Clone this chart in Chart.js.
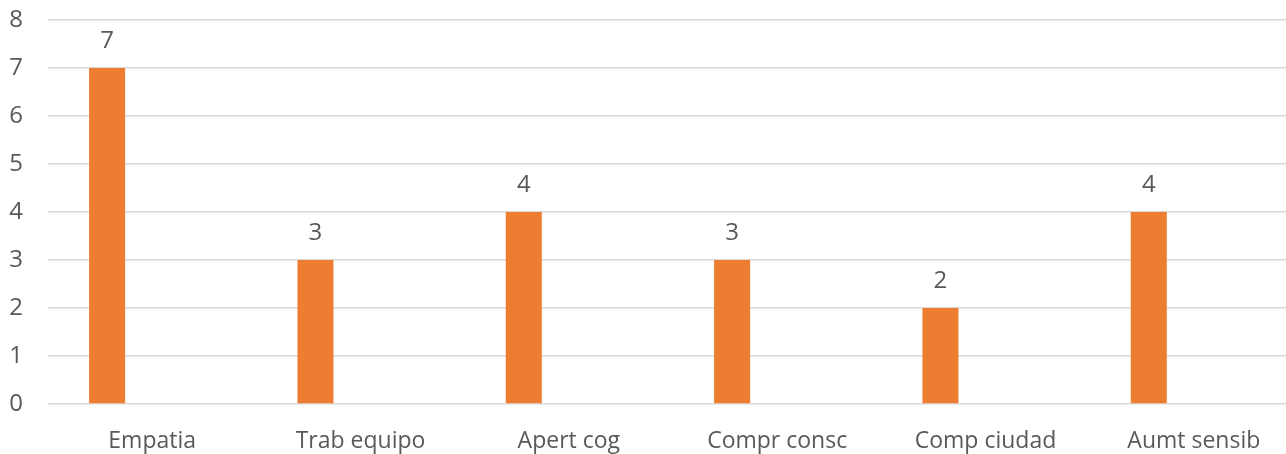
<!DOCTYPE html>
<html>
<head>
<meta charset="utf-8">
<script src="https://cdn.jsdelivr.net/npm/chart.js@4/dist/chart.umd.min.js"></script>
<style>
  html, body { margin: 0; padding: 0; background: #fff; overflow: hidden; }
  #wrap { width: 1298px; height: 454px; }
</style>
</head>
<body>
<div id="wrap"><canvas id="c" width="1298" height="454"></canvas></div>
<script>
// Categorías y valores
const categorias = ['Empatia', 'Trab equipo', 'Apert cog', 'Compr consc', 'Comp ciudad', 'Aumt sensib'];
const valores = [7, 3, 4, 3, 2, 4];
// Segunda serie sin datos (reserva su hueco en cada grupo)
const serieSinDatos = [null, null, null, null, null, null];
const ticksY = [0, 1, 2, 3, 4, 5, 6, 7, 8];

const texto = '#595959';
const naranja = '#ED7D31';

// Etiquetas de valor encima de cada barra
const etiquetasValor = {
  id: 'etiquetasValor',
  afterDatasetsDraw(chart) {
    const ctx = chart.ctx;
    const meta = chart.getDatasetMeta(0);
    ctx.save();
    ctx.font = '24px "Open Sans"';
    ctx.fillStyle = texto;
    ctx.textAlign = 'center';
    ctx.textBaseline = 'alphabetic';
    meta.data.forEach((bar, i) => {
      const v = chart.data.datasets[0].data[i];
      if (v == null) return;
      ctx.fillText(String(v), bar.x, bar.y - 20);
    });
    ctx.restore();
  }
};

new Chart(document.getElementById('c'), {
  type: 'bar',
  data: {
    labels: categorias,
    datasets: [
      { data: valores, backgroundColor: naranja, categoryPercentage: 0.865, barPercentage: 0.4 },
      { data: serieSinDatos, backgroundColor: naranja, categoryPercentage: 0.865, barPercentage: 0.4 }
    ]
  },
  options: {
    responsive: false,
    animation: false,
    layout: { padding: { top: 20, right: 0, left: 0, bottom: 0 } },
    plugins: { legend: { display: false }, tooltip: { enabled: false } },
    scales: {
      x: {
        grid: { display: false },
        border: { display: false },
        ticks: { color: texto, font: { family: 'Open Sans', size: 23 }, padding: 16, maxRotation: 0 },
        afterFit(scale) { scale.height = 50; }
      },
      y: {
        min: 0, max: 8,
        afterBuildTicks(scale) { scale.ticks = ticksY.map(v => ({ value: v })); },
        grid: { color: '#D9D9D9', lineWidth: 1.5, drawTicks: false },
        border: { display: false },
        ticks: { color: texto, font: { family: 'Open Sans', size: 24 }, padding: 25 },
        afterFit(scale) {
          scale.width = 48;
          scale.paddingTop = 0;
          scale.paddingBottom = 0;
        }
      }
    }
  },
  plugins: [etiquetasValor]
});
</script>
</body>
</html>
